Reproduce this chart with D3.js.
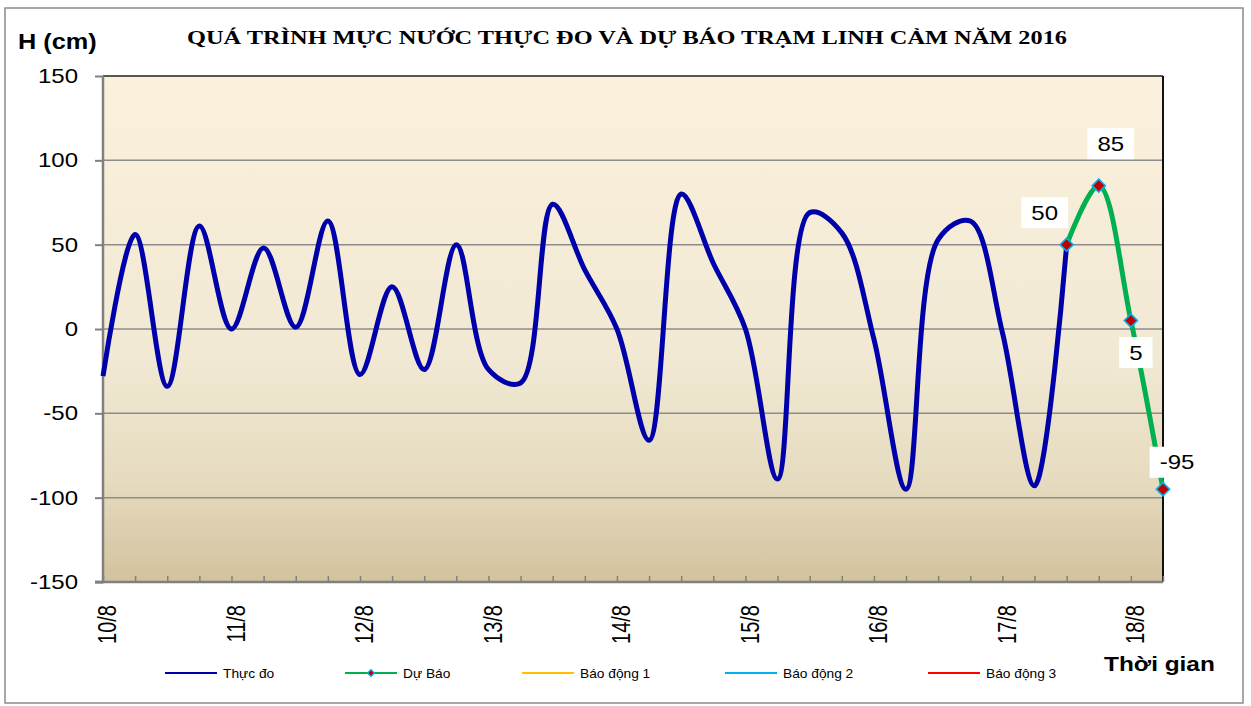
<!DOCTYPE html>
<html>
<head>
<meta charset="utf-8">
<script src="https://cdn.jsdelivr.net/npm/d3@7"></script>
<style>
  body { margin: 0; background: #fff; }
  svg { display: block; font-family: "Liberation Sans", Arial, sans-serif; }
</style>
</head>
<body>
<div id="chart"></div>
<script>
// data, 6-hourly steps from 10/8
const dayLabels = ["10/8", "11/8", "12/8", "13/8", "14/8", "15/8", "16/8", "17/8", "18/8"];
const stepsPerDay = 4;
const measured = [-28, 56, -34, 61, 0, 48, 1, 64, -27, 25, -24, 50, -24, -32, 74, 35, 0, -66,
                  80, 39, 0, -89, 69, 57, -6, -95, 53, 64, -2, -93, 50];
const forecastStart = 30;
const forecast = [50, 85, 5, -95];
const yTicks = [-150, -100, -50, 0, 50, 100, 150];
const legendNames = ["Thực đo", "Dự Báo", "Báo động 1", "Báo động 2", "Báo động 3"];
const legendColors = ["#0000AA", "#00B050", "#FFC000", "#00B0F0", "#FF0000"];

const W = 1251, H = 706;
const plotL = 103, plotR = 1163, plotT = 76, plotB = 582;
const nSteps = forecastStart + forecast.length - 1;   // last category index
const stretch = 1.2;   // the reference text is a bit wide

const svg = d3.select("#chart").append("svg").attr("width", W).attr("height", H);

const defs = svg.append("defs");
const grad = defs.append("linearGradient").attr("id", "bg").attr("x1", 0).attr("y1", 0).attr("x2", 0).attr("y2", 1);
grad.append("stop").attr("offset", "0").attr("stop-color", "#FBF0DC");
grad.append("stop").attr("offset", "0.55").attr("stop-color", "#F1E9D4");
grad.append("stop").attr("offset", "0.8").attr("stop-color", "#E6DBBF");
grad.append("stop").attr("offset", "1").attr("stop-color", "#D2C29E");

// outer chart frame
svg.append("rect").attr("x", 5).attr("y", 8).attr("width", 1238).attr("height", 695)
    .attr("fill", "#fff").attr("stroke", "#8a8a8a").attr("stroke-width", 1.5);

const x = d3.scaleLinear().domain([0, nSteps]).range([plotL, plotR]);
const y = d3.scaleLinear().domain([-150, 150]).range([plotB, plotT]);

svg.append("rect").attr("x", plotL).attr("y", plotT).attr("width", plotR - plotL).attr("height", plotB - plotT)
    .attr("fill", "url(#bg)");

// gridlines
svg.append("g").selectAll("line").data(yTicks.filter(d => d > -150 && d < 150)).enter().append("line")
    .attr("x1", plotL).attr("x2", plotR).attr("y1", d => y(d)).attr("y2", d => y(d))
    .attr("stroke", "#8c8c8c").attr("stroke-width", 1.5);

// plot border top / right
svg.append("line").attr("x1", plotL).attr("x2", plotR).attr("y1", plotT).attr("y2", plotT)
    .attr("stroke", "#222").attr("stroke-width", 1.5);
svg.append("line").attr("x1", plotR).attr("x2", plotR).attr("y1", plotT).attr("y2", plotB)
    .attr("stroke", "#111").attr("stroke-width", 2);

// y axis
const yAxis = svg.append("g").attr("transform", `translate(${plotL},0)`)
    .call(d3.axisLeft(y).tickValues(yTicks).tickSize(8).tickFormat(""));
yAxis.selectAll("path, line").attr("stroke", "#808080").attr("stroke-width", 2);
yAxis.select(".domain").attr("d", `M-8,${plotB}H0V${plotT}`).attr("stroke-width", 2.5);

svg.append("g").selectAll("text").data(yTicks).enter().append("text")
    .attr("transform", d => `translate(78,${y(d)}) scale(${stretch},1)`)
    .attr("text-anchor", "end").attr("dy", "0.35em")
    .attr("font-size", 20).attr("fill", "#000").text(d => d);

// x axis, ticks inside
const xAxis = svg.append("g").attr("transform", `translate(0,${plotB})`)
    .call(d3.axisTop(x).tickValues(d3.range(0, nSteps + 1)).tickSize(6).tickFormat(""));
xAxis.selectAll("path, line").attr("stroke", "#808080").attr("stroke-width", 1.5);
xAxis.select(".domain").attr("d", `M${plotL - 8},0H${plotR}`).attr("stroke-width", 2.5);

svg.append("g").selectAll("text").data(dayLabels).enter().append("text")
    .attr("transform", (d, i) => `translate(${x(i * stepsPerDay) + 4},605) scale(1.3,1) rotate(-90)`)
    .attr("text-anchor", "end").attr("dy", "0.36em")
    .attr("font-size", 20).attr("fill", "#000").text(d => d);

// lines (smoothed like the spreadsheet chart)
const line = d3.line().x(d => x(d.i)).y(d => y(d.v)).curve(d3.curveCatmullRom.alpha(0.5));
const measuredPts = measured.map((v, i) => ({ i, v }));
const forecastPts = forecast.map((v, k) => ({ i: forecastStart + k, v }));

svg.append("path").datum(measuredPts).attr("d", line)
    .attr("fill", "none").attr("stroke", legendColors[0]).attr("stroke-width", 5)
    .attr("stroke-linejoin", "round");
svg.append("path").datum(forecastPts).attr("d", line)
    .attr("fill", "none").attr("stroke", legendColors[1]).attr("stroke-width", 5)
    .attr("stroke-linejoin", "round");

const diamond = d3.symbol().type(d3.symbolDiamond2).size(110);
svg.append("g").selectAll("path").data(forecastPts).enter().append("path")
    .attr("d", diamond).attr("transform", d => `translate(${x(d.i)},${y(d.v)})`)
    .attr("fill", "#C00000").attr("stroke", "#00B0F0").attr("stroke-width", 1.6);

// data labels with white boxes
const labelOffsets = [[-22, -32], [12, -42], [5, 32], [14, -27]];
const labels = svg.append("g").selectAll("g").data(forecastPts).enter().append("g")
    .attr("transform", (d, k) => `translate(${x(d.i) + labelOffsets[k][0]},${y(d.v) + labelOffsets[k][1]})`);
labels.append("rect");
labels.append("text").attr("transform", `scale(${stretch},1)`).attr("text-anchor", "middle").attr("dy", "0.36em")
    .attr("font-size", 20).attr("fill", "#000").text(d => d.v);
labels.each(function () {
    const g = d3.select(this);
    const w = g.select("text").node().getComputedTextLength() * stretch + 20;
    g.select("rect").attr("x", -w / 2).attr("y", -15.5).attr("width", w).attr("height", 31).attr("fill", "#fff");
});

// titles
svg.append("text").attr("x", 187).attr("y", 44).attr("textLength", 880).attr("lengthAdjust", "spacingAndGlyphs")
    .attr("font-family", "'Liberation Serif', 'Times New Roman', serif").attr("font-weight", "bold")
    .attr("font-size", 19.5).text("QUÁ TRÌNH  MỰC NƯỚC THỰC ĐO VÀ DỰ BÁO TRẠM  LINH CẢM NĂM 2016");
svg.append("text").attr("transform", "translate(18,49) scale(1.15,1)")
    .attr("font-weight", "bold").attr("font-size", 22).text("H (cm)");
svg.append("text").attr("transform", "translate(1104,671) scale(1.22,1)")
    .attr("font-weight", "bold").attr("font-size", 20).text("Thời gian");

// legend
const legendX = [165, 345, 522, 725, 928];
const leg = svg.append("g").selectAll("g").data(legendNames).enter().append("g")
    .attr("transform", (d, i) => `translate(${legendX[i]},673)`);
leg.append("line").attr("x1", 0).attr("x2", 52).attr("y1", 0).attr("y2", 0)
    .attr("stroke", (d, i) => legendColors[i]).attr("stroke-width", 2);
leg.filter((d, i) => i === 1).append("path").attr("d", d3.symbol().type(d3.symbolDiamond2).size(30))
    .attr("transform", "translate(26,0)").attr("fill", "#C00000").attr("stroke", "#00B0F0").attr("stroke-width", 1.2);
leg.append("text").attr("transform", "translate(58,0) scale(1.1,1)").attr("dy", "0.36em")
    .attr("font-size", 12.5).attr("fill", "#000").text(d => d);
</script>
</body>
</html>
